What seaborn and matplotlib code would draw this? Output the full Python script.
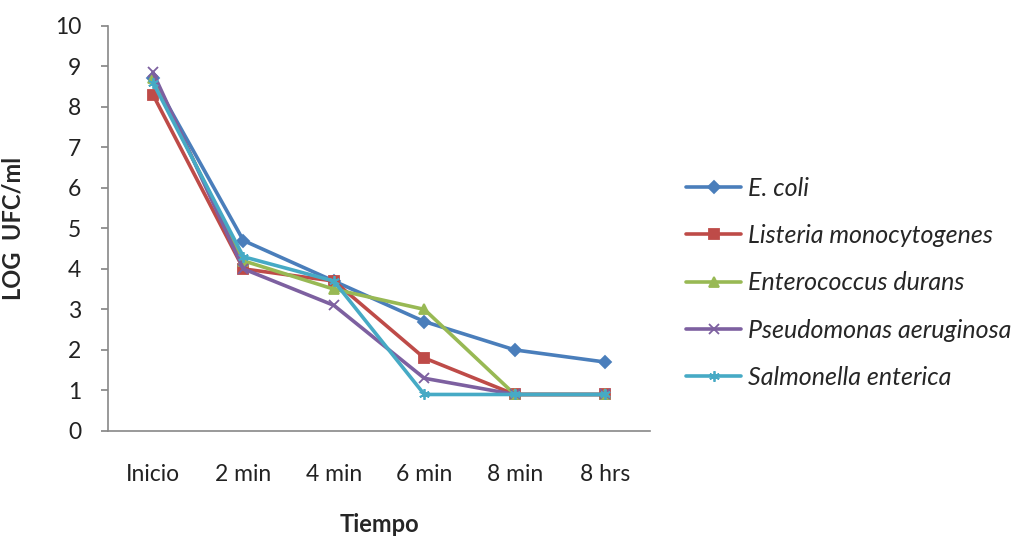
import seaborn as sns
import matplotlib.pyplot as plt
import pandas as pd

# data
tiempos = ['Inicio', '2 min', '4 min', '6 min', '8 min', '8 hrs']
especies = ['E. coli', 'Listeria monocytogenes', 'Enterococcus durans',
            'Pseudomonas aeruginosa', 'Salmonella enterica']
e_coli = [8.7, 4.7, 3.7, 2.7, 2.0, 1.7]
listeria = [8.3, 4.0, 3.7, 1.8, 0.9, 0.9]
enterococcus = [8.7, 4.2, 3.5, 3.0, 0.9, 0.9]
pseudomonas = [8.85, 4.0, 3.1, 1.3, 0.9, 0.9]
salmonella = [8.6, 4.3, 3.7, 0.9, 0.9, 0.9]

valores = [e_coli, listeria, enterococcus, pseudomonas, salmonella]

# long form table
data = pd.DataFrame({
    'Tiempo': tiempos * len(especies),
    'log': [v for serie in valores for v in serie],
    'especie': [e for e in especies for _ in tiempos],
})

colores = ['#4A7EBB', '#BE4B48', '#98B954', '#7D60A0', '#46AAC5']
marcadores = ['D', 's', '^', 'x', (6, 2, 0)]
tamanos = [7, 8.5, 8.5, 9, 9]

sns.set_theme(style="white")
plt.rcParams['font.family'] = ['Lato', 'DejaVu Sans']

fig = plt.figure(figsize=(10.26, 5.38), dpi=100)
ax = fig.add_axes([0.105, 0.199, 0.529, 0.753])

for esp, col, mk, ms in zip(especies, colores, marcadores, tamanos):
    sub = data[data['especie'] == esp]
    sns.lineplot(data=sub, x='Tiempo', y='log', ax=ax, color=col,
                 marker=mk, markersize=ms, linewidth=2.6,
                 markeredgecolor=col, markeredgewidth=1.3, label=esp,
                 sort=False)

ax.set_xlim(-0.5, 5.5)
ax.set_ylim(0, 10)
ax.set_yticks(range(0, 11))
ax.tick_params(axis='y', labelsize=16.5, length=5, color='#888888', left=True,
               colors='#222222', pad=14)
ax.tick_params(axis='x', labelsize=16.5, length=0, pad=24, colors='#222222')
for s in ['top', 'right']:
    ax.spines[s].set_visible(False)
for s in ['left', 'bottom']:
    ax.spines[s].set_color('#888888')
    ax.spines[s].set_linewidth(1.2)

ax.set_xlabel('Tiempo', fontsize=17, fontweight='bold', labelpad=20)
ax.set_ylabel('LOG  UFC/ml', fontsize=17, fontweight='bold', labelpad=22)

ax.get_legend().remove()
h, l = ax.get_legend_handles_labels()
for hd in h:
    hd.set_markersize(hd.get_markersize() * 0.85)
fig.legend(h, l, loc='center left', bbox_to_anchor=(0.647, 0.474),
           frameon=False, prop={'size': 18, 'style': 'italic'},
           labelspacing=0.97, handlelength=2.2, handletextpad=0.25)

fig.savefig('out.png', dpi=100)
